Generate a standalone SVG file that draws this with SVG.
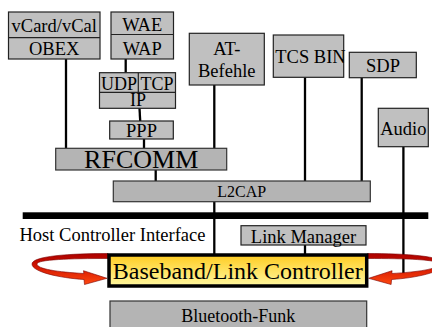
<svg xmlns="http://www.w3.org/2000/svg" width="432" height="327" viewBox="0 0 432 327">
<defs>
<linearGradient id="yel" x1="0" y1="0" x2="0" y2="1">
<stop offset="0" stop-color="#FFCC22"/>
<stop offset="1" stop-color="#FFF8A0"/>
</linearGradient>
<linearGradient id="red" gradientUnits="userSpaceOnUse" x1="0" y1="253" x2="0" y2="285">
<stop offset="0" stop-color="#A80000"/>
<stop offset="0.4" stop-color="#D01400"/>
<stop offset="1" stop-color="#FF4A10"/>
</linearGradient>
<path id="ribbon" d="M108,253.5 C70,253.5 32,256 32,264 C32,272 60,278 84,279.5 L84.5,284.5 L107,278.3 L83.5,270.7 L83.8,273.5 C58,272 37,269 37,264 C37,259.5 70,258.5 108,258.5 Z"/>
</defs>
<style>
.box{fill:#C0C0C0;stroke:#222;stroke-width:1.2}
.dk{fill:#B4B4B4;stroke:#333;stroke-width:1.2}
.ln{stroke:#000;stroke-width:2.3;fill:none}
.div{stroke:#222;stroke-width:1.2}
text{fill:#000;font-size:18.5px;text-anchor:middle}
.rib{fill:url(#red);stroke:#7a0000;stroke-width:0.6}
</style>
<rect width="432" height="327" fill="#fff"/>
<g id="connectors">
<line class="ln" x1="66" y1="59" x2="66" y2="148.3"/>
<line class="ln" x1="125.7" y1="59" x2="125.7" y2="72.7"/>
<line class="ln" x1="139.5" y1="108.3" x2="140.2" y2="121"/>
<line class="ln" x1="144" y1="139" x2="144" y2="148.3"/>
<line class="ln" x1="214.3" y1="85" x2="214.3" y2="148.3"/>
<line class="ln" x1="155.7" y1="170" x2="155.7" y2="181"/>
<line class="ln" x1="305" y1="77.3" x2="305" y2="181"/>
<line class="ln" x1="361.7" y1="77.7" x2="361.7" y2="181"/>
<line class="ln" x1="403.4" y1="146.7" x2="403.4" y2="273"/>
<line class="ln" x1="214.3" y1="201.7" x2="214.3" y2="254"/>
<line class="ln" x1="305" y1="245" x2="305" y2="254"/>
</g>
<g font-family="Liberation Serif, Times New Roman, DejaVu Serif, serif">
<g id="hci">
<rect x="22.7" y="212.3" width="405.6" height="6.7" fill="#000"/>
<text x="19.5" y="241" style="text-anchor:start">Host Controller Interface</text>
</g>
<g id="vcard-obex">
<rect class="box" x="8.5" y="12" width="91.5" height="47"/>
<line class="div" x1="8.5" y1="37.7" x2="100" y2="37.7"/>
<text x="54.2" y="31.5">vCard/vCal</text>
<text x="54.2" y="54.5">OBEX</text>
</g>
<g id="wae-wap">
<rect class="box" x="111" y="12" width="62.5" height="47"/>
<line class="div" x1="111" y1="34.5" x2="173.5" y2="34.5"/>
<text x="142.2" y="30.5">WAE</text>
<text x="142.2" y="54.5">WAP</text>
</g>
<g id="udp-tcp-ip">
<rect class="box" x="99.5" y="72.7" width="76" height="35.6"/>
<line class="div" x1="99.5" y1="92.3" x2="175.5" y2="92.3"/>
<line class="div" x1="138.3" y1="72.7" x2="138.3" y2="92.3"/>
<text x="119" y="89.5" style="font-size:18px">UDP</text>
<text x="157" y="89.5" style="font-size:18px">TCP</text>
<text x="138" y="106" style="font-size:18px">IP</text>
</g>
<g id="ppp">
<rect class="box" x="109.7" y="121" width="63.6" height="18"/>
<text x="141.5" y="136.5">PPP</text>
</g>
<g id="rfcomm">
<rect class="dk" x="55.7" y="148.3" width="171" height="21.7"/>
<text x="141.2" y="168.3" style="font-size:26px">RFCOMM</text>
</g>
<g id="at-befehle">
<rect class="box" x="189.3" y="33.3" width="75" height="51.7"/>
<text x="226.8" y="55">AT-</text>
<text x="226.8" y="77.3">Befehle</text>
</g>
<g id="tcs-bin">
<rect class="box" x="273.3" y="35" width="70.4" height="42.3"/>
<text x="275.3" y="63.3" style="text-anchor:start">TCS BIN</text>
</g>
<g id="sdp">
<rect class="box" x="349.3" y="52.3" width="67" height="25.4"/>
<text x="383" y="72">SDP</text>
</g>
<g id="audio">
<rect class="box" x="378.3" y="108.3" width="50" height="38.4"/>
<text x="403.3" y="135">Audio</text>
</g>
<g id="l2cap">
<rect class="dk" x="113.3" y="181" width="257" height="20.7"/>
<text x="241.7" y="196.8" style="font-size:16px">L2CAP</text>
</g>
<g id="link-manager">
<rect class="box" x="241" y="225.7" width="125" height="19.3"/>
<text x="303.5" y="242.5">Link Manager</text>
</g>
<g id="loops">
<use href="#ribbon" class="rib"/>
<use href="#ribbon" class="rib" transform="translate(475.6,0) scale(-1,1)"/>
</g>
<g id="baseband">
<rect x="109" y="255" width="257.7" height="31" fill="url(#yel)" stroke="#000" stroke-width="3.5"/>
<text x="237.8" y="279" style="font-size:24px">Baseband/Link Controller</text>
</g>
<g id="bluetooth-funk">
<rect class="dk" x="110" y="301" width="256.7" height="27"/>
<text x="238.3" y="322.3" style="font-size:18px">Bluetooth-Funk</text>
</g>
</g>
</svg>
